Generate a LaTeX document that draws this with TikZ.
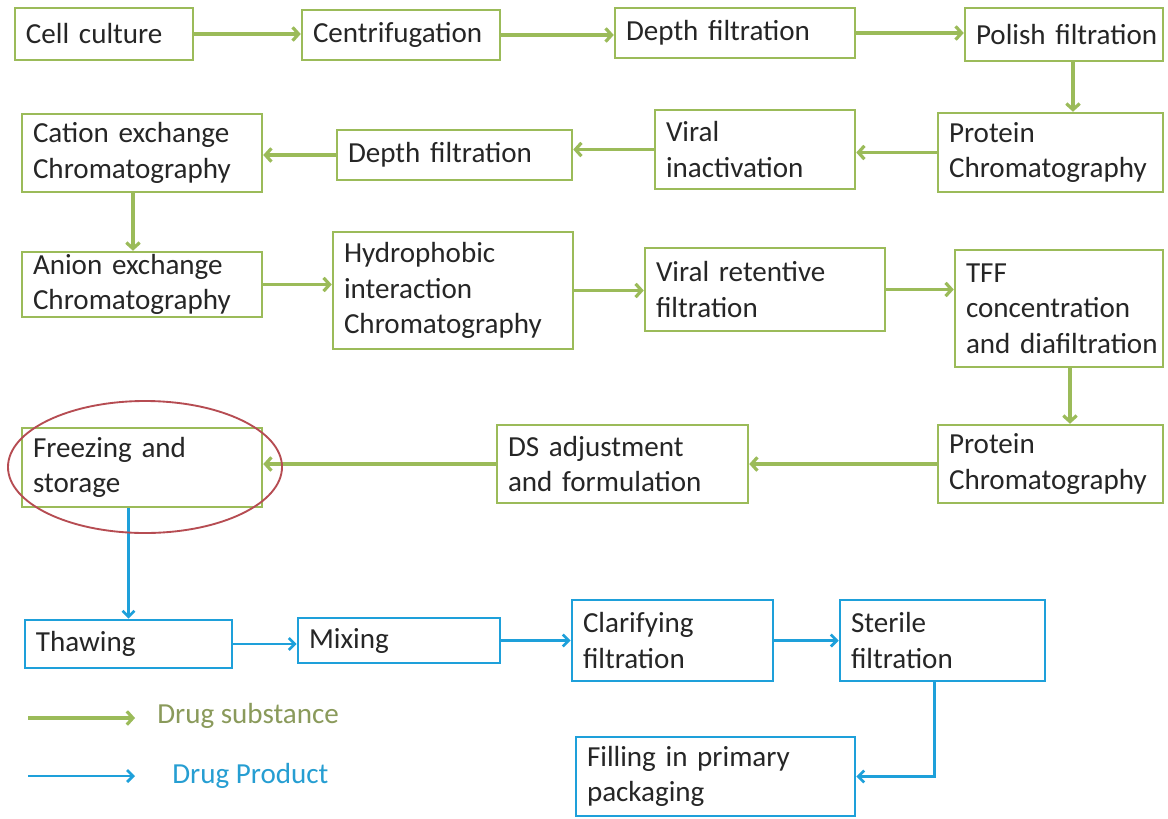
\documentclass[tikz,border=0pt]{standalone}
\usepackage{fontspec}
\setmainfont{Carlito}
\usetikzlibrary{arrows.meta}
\definecolor{gr}{RGB}{155,187,89}
\definecolor{bl}{RGB}{30,160,218}
\definecolor{rd}{RGB}{182,76,82}
\definecolor{grtext}{RGB}{138,154,91}
\definecolor{bltext}{RGB}{38,158,210}
\def\px{0.75pt}
\hyphenpenalty=10000
\exhyphenpenalty=10000
\hbadness=10000
\hfuzz=50pt
\newcommand{\flowbox}[7]{%
  \pgfmathsetmacro\fbw{(#5-#3)*0.75}%
  \pgfmathsetmacro\fbh{(#6-#4)*0.75}%
  \pgfmathsetmacro\fbt{(#5-#3-22)*0.75}%
  \node[#1, minimum width=\fbw pt, minimum height=\fbh pt, text width=\fbt pt] (#2) at ({(#3+#5)/2},{(#4+#6)/2}) {#7};}
\begin{document}
\begin{tikzpicture}[x=0.75pt,y=-0.75pt,
  box/.style={draw, line width=1.9pt, inner xsep=8.25pt, inner ysep=0pt, align=left,
    font=\fontsize{21.8}{26.5}\selectfont,
    text=black!85, fill=white},
  gbox/.style={box, draw=gr},
  bbox/.style={box, draw=bl},
  garrow/.style={draw=gr, line width=2.8pt, -{Straight Barb[length=4.5pt,width=10pt,line width=2.4pt]}},
  barrow/.style={draw=bl, line width=2.2pt, -{Straight Barb[length=4.5pt,width=9pt,line width=2pt]}},
  legtext/.style={anchor=west, font=\fontsize{21.8}{26.5}\selectfont, inner sep=0pt}
]
\fill[white] (0,0) rectangle (1168,818);
\useasboundingbox (0,0) rectangle (1168,818);

% Row 1
\flowbox{gbox}{g1}{15}{8}{193}{60}{Cell~culture}
\flowbox{gbox}{g2}{302}{10}{500}{60}{Centrifugation}
\flowbox{gbox}{g3}{615}{8}{855}{58}{Depth~filtration}
\flowbox{gbox}{g4}{965}{8}{1163}{61}{Polish~filtration}
% Row 2
\flowbox{gbox}{p1}{938}{113}{1163}{192}{Protein\\Chromatography}
\flowbox{gbox}{v1}{655}{110}{855}{189}{Viral\\inactivation}
\flowbox{gbox}{d2}{337}{130}{572}{180}{Depth~filtration}
\flowbox{gbox}{c1}{22}{114}{262}{192}{Cation~exchange\\Chromatography}
% Row 3
\flowbox{gbox}{a1}{22}{252}{262}{317}{Anion~exchange\\Chromatography}
\flowbox{gbox}{h1}{333}{232}{573}{349}{Hydrophobic\\interaction\\Chromatography}
\flowbox{gbox}{vr}{645}{248}{885}{331}{Viral~retentive\\filtration}
\flowbox{gbox}{tf}{955}{250}{1163}{367}{TFF\\concentration\\and~diafiltration}
% Row 4
\flowbox{gbox}{p2}{938}{425}{1163}{503}{Protein\\Chromatography}
\flowbox{gbox}{ds}{497}{425}{748}{503}{DS~adjustment\\and~formulation}
\flowbox{gbox}{fz}{22}{428}{262}{507}{Freezing~and\\storage}
% Row 5
\flowbox{bbox}{th}{25}{620}{232}{668}{Thawing}
\flowbox{bbox}{mx}{298}{618}{500}{663}{Mixing}
\flowbox{bbox}{cl}{572}{600}{773}{681}{Clarifying\\filtration}
\flowbox{bbox}{st}{840}{600}{1045}{681}{Sterile\\filtration}
\flowbox{bbox}{fl}{576}{737}{855}{816}{Filling~in~primary\\packaging}

% Green connectors
\draw[garrow] (g1.east) -- (g1.east -| g2.west);
\draw[garrow] (g2.east) -- (g2.east -| g3.west);
\draw[garrow] (g3.east) -- (g3.east -| g4.west);
\draw[garrow] ([xshift=9*\px]g4.south) -- ([xshift=9*\px]g4.south |- p1.north);
\draw[garrow] (p1.west) -- (p1.west -| v1.east);
\draw[garrow] (v1.west) -- (v1.west -| d2.east);
\draw[garrow] (d2.west) -- (d2.west -| c1.east);
\draw[garrow] ([xshift=-9*\px]c1.south) -- ([xshift=-9*\px]c1.south |- a1.north);
\draw[garrow] (a1.east) -- (a1.east -| h1.west);
\draw[garrow] (h1.east) -- (h1.east -| vr.west);
\draw[garrow] (vr.east) -- (vr.east -| tf.west);
\draw[garrow] ([xshift=11*\px]tf.south) -- ([xshift=11*\px]tf.south |- p2.north);
\draw[garrow] (p2.west) -- (p2.west -| ds.east);
\draw[garrow] (ds.west) -- (ds.west -| fz.east);

% Blue connectors
\draw[barrow] (fz.south -| th.north) -- (th.north);
\draw[barrow] (th.east) -- (th.east -| mx.west);
\draw[barrow] (mx.east) -- (mx.east -| cl.west);
\draw[barrow] (cl.east) -- (cl.east -| st.west);
\draw[barrow] ([xshift=-8*\px]st.south) |- (fl.east);

% Highlight ellipse
\draw[rd, line width=1.4pt] (145,467) ellipse [x radius=102.75pt, y radius=49.5pt];

% Legend
\coordinate (lga) at (28,718);
\coordinate (lgb) at (135,718);
\coordinate (lgc) at (28,776);
\coordinate (lgd) at (135,776);
\draw[garrow] (lga) -- (lgb);
\draw[barrow] (lgc) -- (lgd);
\node[legtext, text=grtext] (lgs) at (157,716) {Drug substance};
\node[legtext, text=bltext] (lgp) at (172,776) {Drug Product};
\end{tikzpicture}
\end{document}
